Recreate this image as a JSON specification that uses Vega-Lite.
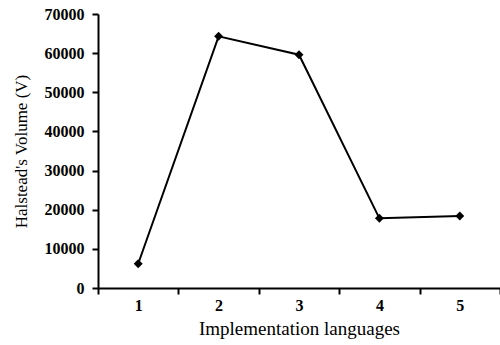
{
  "$schema": "https://vega.github.io/schema/vega-lite/v6.json",
  "width": 402,
  "height": 274,
  "autosize": {"type": "none"},
  "padding": {"left": 98, "top": 14, "right": 0, "bottom": 57},
  "background": "white",
  "config": {
    "view": {"stroke": null},
    "axis": {
      "grid": false,
      "domainColor": "black",
      "domainWidth": 2,
      "tickColor": "black",
      "tickWidth": 2,
      "tickSize": 6,
      "labelColor": "black",
      "labelFont": "Liberation Serif",
      "labelFontWeight": "bold",
      "labelFontSize": 16,
      "titleFont": "Liberation Serif",
      "titleFontWeight": "normal",
      "titleFontSize": 17,
      "titleColor": "black"
    }
  },
  "data": {
    "values": [
      {"lang": "1", "volume": 6200},
      {"lang": "2", "volume": 64300},
      {"lang": "3", "volume": 59600},
      {"lang": "4", "volume": 17800},
      {"lang": "5", "volume": 18400}
    ]
  },
  "encoding": {
    "x": {
      "field": "lang",
      "type": "ordinal",
      "bandPosition": 0.5,
      "scale": {"type": "band", "paddingInner": 0, "paddingOuter": 0},
      "axis": {"title": "Implementation languages", "labelAngle": 0, "tickBand": "extent", "labelPadding": 3, "titlePadding": 6, "titleFontSize": 19}
    },
    "y": {
      "field": "volume",
      "type": "quantitative",
      "scale": {"domain": [0, 70000], "nice": false},
      "axis": {"title": "Halstead's Volume (V)", "values": [0, 10000, 20000, 30000, 40000, 50000, 60000, 70000], "format": "d", "labelPadding": 8, "titlePadding": 14}
    }
  },
  "layer": [
    {"mark": {"type": "line", "color": "black", "strokeWidth": 2}},
    {"mark": {"type": "point", "shape": "diamond", "filled": true, "color": "black", "size": 80, "opacity": 1}}
  ]
}
